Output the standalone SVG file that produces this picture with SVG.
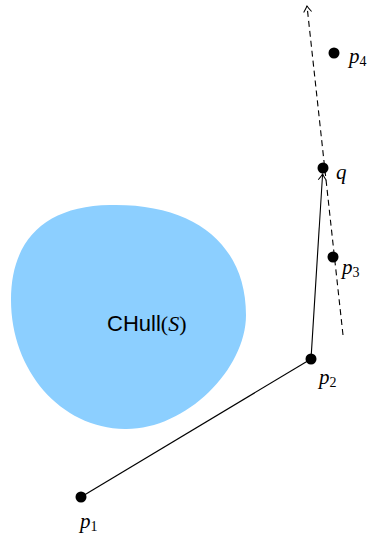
<svg xmlns="http://www.w3.org/2000/svg" width="367" height="533" viewBox="0 0 367 533">
<style>
.lbl{font-family:"Liberation Serif","DejaVu Serif",serif;font-style:italic;font-size:21px;fill:#000}
.sub{font-family:"Liberation Serif","DejaVu Serif",serif;font-style:normal;font-size:14px}
.dot{fill:#000}
.ln{stroke:#000;stroke-width:1.1;fill:none}
</style>
<defs>
<marker id="arr" viewBox="-8 -5 10 10" refX="0" refY="0" markerWidth="10" markerHeight="10" markerUnits="userSpaceOnUse" orient="auto">
<path d="M -6,-4 Q -2,-1 0,0 Q -2,1 -6,4" fill="none" stroke="#000" stroke-width="1"/>
</marker>
</defs>
<g id="hull">
<path d="M 110,205 C 195,203 246,245 246,315 C 246,370 185,430 125,429 C 60,428 11,370 11,300 C 11,240 45,206 110,205 Z" fill="#8ccfff"/>
<text x="107" y="331" font-family="'Liberation Sans','DejaVu Sans',sans-serif" font-size="22">CHull<tspan font-family="'Liberation Serif',serif">(</tspan><tspan font-family="'Liberation Serif',serif" font-style="italic">S</tspan><tspan font-family="'Liberation Serif',serif">)</tspan></text>
</g>
<g id="connectors">
<line class="ln" x1="81" y1="497" x2="311" y2="359"/>
<line class="ln" x1="311" y1="359" x2="322.6" y2="174" marker-end="url(#arr)"/>
<line class="ln" x1="343" y1="335" x2="307" y2="6" stroke-dasharray="6,4" marker-end="url(#arr)"/>
</g>
<g id="p1"><circle class="dot" cx="81" cy="497" r="5.5"/><text class="lbl" x="80" y="528">p<tspan class="sub" dy="3">1</tspan></text></g>
<g id="p2"><circle class="dot" cx="311" cy="359" r="5.5"/><text class="lbl" x="319" y="384">p<tspan class="sub" dy="3">2</tspan></text></g>
<g id="q"><circle class="dot" cx="323" cy="168" r="5.5"/><text class="lbl" x="336" y="179">q</text></g>
<g id="p3"><circle class="dot" cx="333" cy="257" r="5.5"/><text class="lbl" x="342" y="274">p<tspan class="sub" dy="3">3</tspan></text></g>
<g id="p4"><circle class="dot" cx="334" cy="53" r="5.5"/><text class="lbl" x="349" y="63">p<tspan class="sub" dy="3">4</tspan></text></g>
</svg>
